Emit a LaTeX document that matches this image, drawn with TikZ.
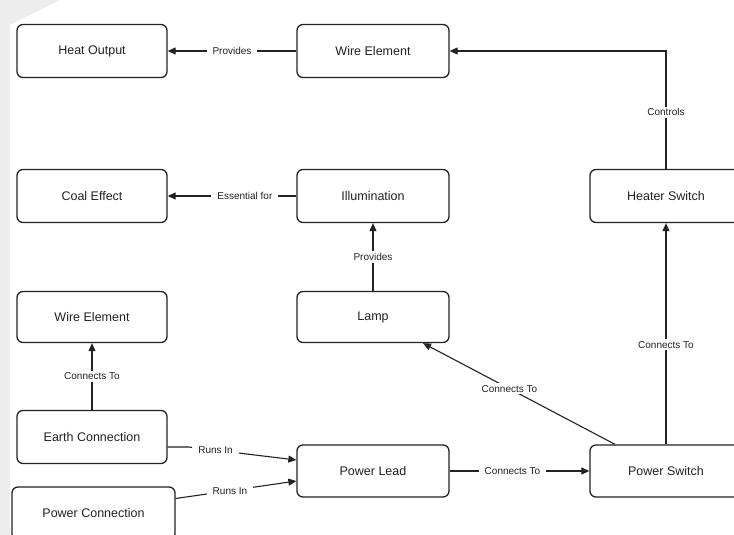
\documentclass[tikz,border=0pt]{standalone}
\usepackage{fontspec}
\setmainfont{Liberation Sans}
\usetikzlibrary{arrows.meta,calc}
\definecolor{ink}{HTML}{222222}
\tikzset{
  box/.style={draw=ink, line width=1.3pt, rounded corners=6pt, minimum width=150pt, minimum height=53pt,
    font=\fontsize{12.5}{14}\selectfont, text=ink, inner sep=0pt},
  conn/.style={draw=ink, line width=1.1pt, -{Triangle[length=8pt,width=7pt]}},
  lab/.style={fill=white, font=\fontsize{10}{12}\selectfont, text=ink, inner xsep=6pt, inner ysep=2pt}
}
\begin{document}
\begin{tikzpicture}[x=1pt,y=-1pt]
\useasboundingbox (0,0) rectangle (734,535);
\fill[white] (0,0) rectangle (734,535);
\fill[black!7] (0,0) rectangle (10,535);
\fill[black!7] (0,0) -- (60,0) -- (10,25) -- (0,25) -- cycle;
\clip (0,0) rectangle (734,535);
% nodes
\node[box] (heat) at (92,51) {Heat Output};
\node[box,minimum width=152pt] (wire) at (373,51) {Wire Element};
\node[box] (coal) at (92,196) {Coal Effect};
\node[box,minimum width=152pt] (illum) at (373,196) {Illumination};
\node[box,minimum width=152pt] (heater) at (666,196) {Heater Switch};
\node[box,minimum height=51pt] (wire2) at (92,317) {Wire Element};
\node[box,minimum width=152pt,minimum height=51pt] (lamp) at (373,317) {Lamp};
\node[box] (earth) at (92,437) {Earth Connection};
\node[box,minimum width=163pt] (pconn) at (93.5,513.5) {Power Connection};
\node[box,minimum width=152pt,minimum height=52pt] (lead) at (373,471) {Power Lead};
\node[box,minimum width=152pt,minimum height=52pt] (pswitch) at (666,471) {Power Switch};
% connectors
\draw[conn] (wire.west) -- node[lab]{Provides} (heat.east);
\draw[conn] (illum.west) -- node[lab,pos=0.4]{Essential for} (coal.east);
\draw[conn] (lamp.north) -- node[lab]{Provides} (illum.south);
\draw[conn] (earth.north) -- node[lab]{Connects To} (wire2.south);
\draw[conn] (heater.north) -- node[lab,pos=0.48]{Controls} (heater.north |- wire.east) -- (wire.east);
\draw[conn] (pswitch.north) -- node[lab,pos=0.45]{Connects To} (heater.south);
\draw[conn] ([xshift=-51pt]pswitch.north) -- node[lab,pos=0.55]{Connects To} ([xshift=50pt]lamp.south);
\draw[conn] (lead.east) -- node[lab,pos=0.45]{Connects To} (pswitch.west);
\coordinate (e1) at ([yshift=-10pt]earth.east);
\coordinate (e2) at ($(e1)+(21,0)$);
\draw[conn] (e1) -- (e2) -- node[lab,pos=0.25]{Runs In} ([yshift=11pt]lead.west);
\coordinate (p1) at ([yshift=15pt]pconn.east);
\draw[conn] (p1) -- node[lab,pos=0.45]{Runs In} ([yshift=-10pt]lead.west);
\end{tikzpicture}
\end{document}
